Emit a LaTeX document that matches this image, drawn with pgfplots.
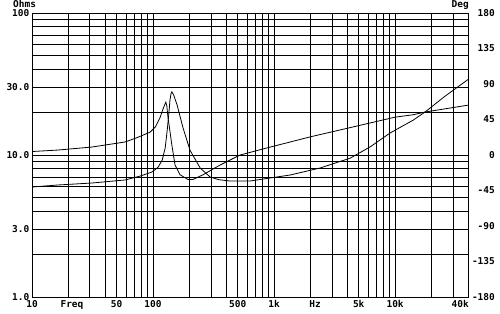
\documentclass[border=0pt]{standalone}
\usepackage{fontspec}
\setmonofont{DejaVu Sans Mono}
\usepackage{pgfplots}
\pgfplotsset{compat=1.18}
\newcommand{\lblfont}{\fontsize{9.5}{10}\selectfont\ttfamily\bfseries}
\begin{document}
\begin{tikzpicture}[x=1bp,y=1bp]
\begin{axis}[
  at={(32bp,16bp)}, anchor=south west,
  width=436bp, height=284bp, scale only axis,
  xmode=log, ymode=log,
  xmin=10, xmax=40000, ymin=1, ymax=100,
  axis line style={black, line width=0.9bp},
  xtick={10,50,100,500,1000,5000,10000},
  xticklabels={10,50,100,500,1k,5k,10k},
  minor xtick={20,30,40,60,70,80,90,200,300,400,600,700,800,900,2000,3000,4000,6000,7000,8000,9000,20000,30000},
  extra x ticks={21.4,2180},
  extra x tick labels={Freq,Hz},
  extra x tick style={grid=none},
  ytick={1,3,10,30,100},
  yticklabels={1.0,3.0,10.0,30.0,100},
  minor ytick={2,4,5,6,7,8,9,20,40,50,60,70,80,90},
  major tick length=0pt, minor tick length=0pt,
  grid=both,
  major grid style={black, line width=0.6bp},
  minor grid style={black, line width=0.6bp},
  tick label style={font=\lblfont, inner sep=0pt},
  xticklabel style={anchor=north, yshift=-3bp},
  yticklabel style={anchor=east, xshift=-2.5bp},
  clip=true,
]
\addplot[black, line width=0.8bp] coordinates {
(10,5.95) (16.4,6.15) (31.3,6.35) (58.7,6.67) (78,7.1) (98,7.59) (110,8.2) (119,9.2)
(126,11.2) (131,15.0) (135,19.5) (138,24.4) (141,27.2) (143,27.8) (148,26.5) (158,22.5)
(177,15.5) (202,10.8) (245,8.1) (296,7.0) (350,6.7) (433,6.56) (633,6.56) (927,6.89)
(1356,7.23) (2400,8.1) (4250,9.5) (6210,11.4) (9100,14.3) (14100,17.6) (17700,20.1)
(25900,26.0) (40000,34.0)
};
\end{axis}
\begin{axis}[
  at={(32bp,16bp)}, anchor=south west,
  width=436bp, height=284bp, scale only axis,
  xmode=log, xmin=10, xmax=40000,
  ymin=-180, ymax=180,
  axis x line=none,
  axis y line*=right,
  axis line style={black, line width=0.9bp},
  ytick={-180,-135,-90,-45,0,45,90,135,180},
  yticklabels={-180,-135,-90,-45,0,45,90,135,180},
  major tick length=0pt,
  tick label style={font=\lblfont, inner sep=0pt},
  yticklabel style={anchor=east, xshift=27bp},
]
\addplot[black, line width=0.8bp] coordinates {
(10,4.4) (16.4,6.3) (31.3,10.1) (58.7,16.5) (73.8,22) (94.5,29) (105,36) (114,47)
(120,57) (125,64) (127.5,67) (130,62) (133,47) (138,30) (143,12.7) (152,-12.7)
(167,-25) (194,-31) (214,-31) (259,-25) (358,-12.7) (524,0) (927,10) (1990,23)
(6210,40.6) (10000,48) (14100,51) (17700,54.5) (39400,63) (40000,63.1)
};
\end{axis}
\node[anchor=north west, font=\lblfont, inner sep=0pt] at (13,312.5) {Ohms};
\node[anchor=north east, font=\lblfont, inner sep=0pt] at (469,312.5) {Deg};
\node[anchor=north east, font=\lblfont, inner sep=0pt] at (469,13) {40k};
\pgfresetboundingbox
\path (0,0) rectangle (500,313);
\end{tikzpicture}
\end{document}
